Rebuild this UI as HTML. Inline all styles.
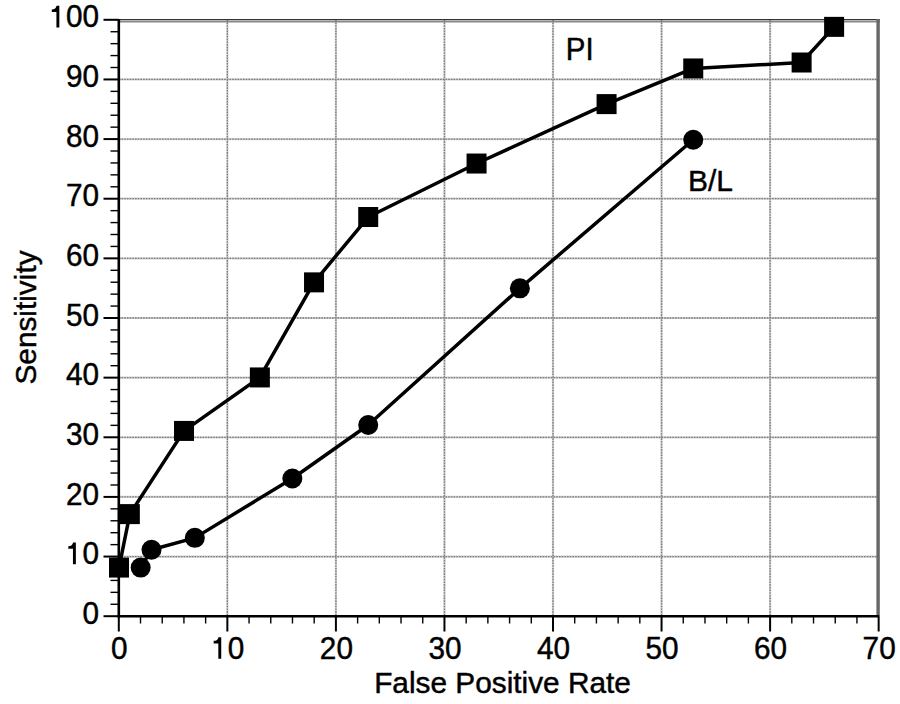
<!DOCTYPE html>
<html><head><meta charset="utf-8"><style>
html,body{margin:0;padding:0;background:#fff;}
body{width:900px;height:704px;overflow:hidden;}
svg{display:block;}
text{font-family:"Liberation Sans",sans-serif;fill:#000;stroke:#000;stroke-width:0.45px;}
.h{fill:none;stroke:none;}
path{fill:#000;}
</style></head><body>
<svg width="900" height="704" viewBox="0 0 900 704">
<rect width="900" height="704" fill="#fff"/>

<g stroke="#d2d2d2" stroke-width="2.2"><line x1="227.35" y1="19.80" x2="227.35" y2="616.20"/><line x1="335.90" y1="19.80" x2="335.90" y2="616.20"/><line x1="444.45" y1="19.80" x2="444.45" y2="616.20"/><line x1="553.00" y1="19.80" x2="553.00" y2="616.20"/><line x1="661.55" y1="19.80" x2="661.55" y2="616.20"/><line x1="770.10" y1="19.80" x2="770.10" y2="616.20"/><line x1="118.80" y1="556.56" x2="878.65" y2="556.56"/><line x1="118.80" y1="496.92" x2="878.65" y2="496.92"/><line x1="118.80" y1="437.28" x2="878.65" y2="437.28"/><line x1="118.80" y1="377.64" x2="878.65" y2="377.64"/><line x1="118.80" y1="318.00" x2="878.65" y2="318.00"/><line x1="118.80" y1="258.36" x2="878.65" y2="258.36"/><line x1="118.80" y1="198.72" x2="878.65" y2="198.72"/><line x1="118.80" y1="139.08" x2="878.65" y2="139.08"/><line x1="118.80" y1="79.44" x2="878.65" y2="79.44"/></g>
<g stroke="#7c7c7c" stroke-width="1.3" stroke-dasharray="1.6 1.1"><line x1="227.35" y1="19.80" x2="227.35" y2="616.20"/><line x1="335.90" y1="19.80" x2="335.90" y2="616.20"/><line x1="444.45" y1="19.80" x2="444.45" y2="616.20"/><line x1="553.00" y1="19.80" x2="553.00" y2="616.20"/><line x1="661.55" y1="19.80" x2="661.55" y2="616.20"/><line x1="770.10" y1="19.80" x2="770.10" y2="616.20"/><line x1="118.80" y1="556.56" x2="878.65" y2="556.56"/><line x1="118.80" y1="496.92" x2="878.65" y2="496.92"/><line x1="118.80" y1="437.28" x2="878.65" y2="437.28"/><line x1="118.80" y1="377.64" x2="878.65" y2="377.64"/><line x1="118.80" y1="318.00" x2="878.65" y2="318.00"/><line x1="118.80" y1="258.36" x2="878.65" y2="258.36"/><line x1="118.80" y1="198.72" x2="878.65" y2="198.72"/><line x1="118.80" y1="139.08" x2="878.65" y2="139.08"/><line x1="118.80" y1="79.44" x2="878.65" y2="79.44"/></g>
<line x1="118.80" y1="19.6" x2="879.9" y2="19.6" stroke="#333" stroke-width="1.3"/>
<line x1="118.80" y1="21.7" x2="879.9" y2="21.7" stroke="#888" stroke-width="1.8"/>
<line x1="878.1" y1="19" x2="878.1" y2="616.20" stroke="#666" stroke-width="3.4"/>
<g stroke="#000"><line x1="118.80" y1="19.30" x2="118.80" y2="617.40" stroke-width="2.6"/><line x1="117.60" y1="616.20" x2="879.15" y2="616.20" stroke-width="2.6"/><line x1="118.80" y1="616.20" x2="118.80" y2="631.5" stroke-width="2"/><line x1="140.51" y1="616.20" x2="140.51" y2="623.5" stroke-width="1.4"/><line x1="162.22" y1="616.20" x2="162.22" y2="623.5" stroke-width="1.4"/><line x1="183.93" y1="616.20" x2="183.93" y2="623.5" stroke-width="1.4"/><line x1="205.64" y1="616.20" x2="205.64" y2="623.5" stroke-width="1.4"/><line x1="227.35" y1="616.20" x2="227.35" y2="631.5" stroke-width="2"/><line x1="249.06" y1="616.20" x2="249.06" y2="623.5" stroke-width="1.4"/><line x1="270.77" y1="616.20" x2="270.77" y2="623.5" stroke-width="1.4"/><line x1="292.48" y1="616.20" x2="292.48" y2="623.5" stroke-width="1.4"/><line x1="314.19" y1="616.20" x2="314.19" y2="623.5" stroke-width="1.4"/><line x1="335.90" y1="616.20" x2="335.90" y2="631.5" stroke-width="2"/><line x1="357.61" y1="616.20" x2="357.61" y2="623.5" stroke-width="1.4"/><line x1="379.32" y1="616.20" x2="379.32" y2="623.5" stroke-width="1.4"/><line x1="401.03" y1="616.20" x2="401.03" y2="623.5" stroke-width="1.4"/><line x1="422.74" y1="616.20" x2="422.74" y2="623.5" stroke-width="1.4"/><line x1="444.45" y1="616.20" x2="444.45" y2="631.5" stroke-width="2"/><line x1="466.16" y1="616.20" x2="466.16" y2="623.5" stroke-width="1.4"/><line x1="487.87" y1="616.20" x2="487.87" y2="623.5" stroke-width="1.4"/><line x1="509.58" y1="616.20" x2="509.58" y2="623.5" stroke-width="1.4"/><line x1="531.29" y1="616.20" x2="531.29" y2="623.5" stroke-width="1.4"/><line x1="553.00" y1="616.20" x2="553.00" y2="631.5" stroke-width="2"/><line x1="574.71" y1="616.20" x2="574.71" y2="623.5" stroke-width="1.4"/><line x1="596.42" y1="616.20" x2="596.42" y2="623.5" stroke-width="1.4"/><line x1="618.13" y1="616.20" x2="618.13" y2="623.5" stroke-width="1.4"/><line x1="639.84" y1="616.20" x2="639.84" y2="623.5" stroke-width="1.4"/><line x1="661.55" y1="616.20" x2="661.55" y2="631.5" stroke-width="2"/><line x1="683.26" y1="616.20" x2="683.26" y2="623.5" stroke-width="1.4"/><line x1="704.97" y1="616.20" x2="704.97" y2="623.5" stroke-width="1.4"/><line x1="726.68" y1="616.20" x2="726.68" y2="623.5" stroke-width="1.4"/><line x1="748.39" y1="616.20" x2="748.39" y2="623.5" stroke-width="1.4"/><line x1="770.10" y1="616.20" x2="770.10" y2="631.5" stroke-width="2"/><line x1="791.81" y1="616.20" x2="791.81" y2="623.5" stroke-width="1.4"/><line x1="813.52" y1="616.20" x2="813.52" y2="623.5" stroke-width="1.4"/><line x1="835.23" y1="616.20" x2="835.23" y2="623.5" stroke-width="1.4"/><line x1="856.94" y1="616.20" x2="856.94" y2="623.5" stroke-width="1.4"/><line x1="878.65" y1="616.20" x2="878.65" y2="631.5" stroke-width="2"/><line x1="103.5" y1="616.20" x2="118.80" y2="616.20" stroke-width="2"/><line x1="110.5" y1="604.27" x2="118.80" y2="604.27" stroke-width="1.4"/><line x1="110.5" y1="592.34" x2="118.80" y2="592.34" stroke-width="1.4"/><line x1="110.5" y1="580.42" x2="118.80" y2="580.42" stroke-width="1.4"/><line x1="110.5" y1="568.49" x2="118.80" y2="568.49" stroke-width="1.4"/><line x1="103.5" y1="556.56" x2="118.80" y2="556.56" stroke-width="2"/><line x1="110.5" y1="544.63" x2="118.80" y2="544.63" stroke-width="1.4"/><line x1="110.5" y1="532.70" x2="118.80" y2="532.70" stroke-width="1.4"/><line x1="110.5" y1="520.78" x2="118.80" y2="520.78" stroke-width="1.4"/><line x1="110.5" y1="508.85" x2="118.80" y2="508.85" stroke-width="1.4"/><line x1="103.5" y1="496.92" x2="118.80" y2="496.92" stroke-width="2"/><line x1="110.5" y1="484.99" x2="118.80" y2="484.99" stroke-width="1.4"/><line x1="110.5" y1="473.06" x2="118.80" y2="473.06" stroke-width="1.4"/><line x1="110.5" y1="461.14" x2="118.80" y2="461.14" stroke-width="1.4"/><line x1="110.5" y1="449.21" x2="118.80" y2="449.21" stroke-width="1.4"/><line x1="103.5" y1="437.28" x2="118.80" y2="437.28" stroke-width="2"/><line x1="110.5" y1="425.35" x2="118.80" y2="425.35" stroke-width="1.4"/><line x1="110.5" y1="413.42" x2="118.80" y2="413.42" stroke-width="1.4"/><line x1="110.5" y1="401.50" x2="118.80" y2="401.50" stroke-width="1.4"/><line x1="110.5" y1="389.57" x2="118.80" y2="389.57" stroke-width="1.4"/><line x1="103.5" y1="377.64" x2="118.80" y2="377.64" stroke-width="2"/><line x1="110.5" y1="365.71" x2="118.80" y2="365.71" stroke-width="1.4"/><line x1="110.5" y1="353.78" x2="118.80" y2="353.78" stroke-width="1.4"/><line x1="110.5" y1="341.86" x2="118.80" y2="341.86" stroke-width="1.4"/><line x1="110.5" y1="329.93" x2="118.80" y2="329.93" stroke-width="1.4"/><line x1="103.5" y1="318.00" x2="118.80" y2="318.00" stroke-width="2"/><line x1="110.5" y1="306.07" x2="118.80" y2="306.07" stroke-width="1.4"/><line x1="110.5" y1="294.14" x2="118.80" y2="294.14" stroke-width="1.4"/><line x1="110.5" y1="282.22" x2="118.80" y2="282.22" stroke-width="1.4"/><line x1="110.5" y1="270.29" x2="118.80" y2="270.29" stroke-width="1.4"/><line x1="103.5" y1="258.36" x2="118.80" y2="258.36" stroke-width="2"/><line x1="110.5" y1="246.43" x2="118.80" y2="246.43" stroke-width="1.4"/><line x1="110.5" y1="234.50" x2="118.80" y2="234.50" stroke-width="1.4"/><line x1="110.5" y1="222.58" x2="118.80" y2="222.58" stroke-width="1.4"/><line x1="110.5" y1="210.65" x2="118.80" y2="210.65" stroke-width="1.4"/><line x1="103.5" y1="198.72" x2="118.80" y2="198.72" stroke-width="2"/><line x1="110.5" y1="186.79" x2="118.80" y2="186.79" stroke-width="1.4"/><line x1="110.5" y1="174.86" x2="118.80" y2="174.86" stroke-width="1.4"/><line x1="110.5" y1="162.94" x2="118.80" y2="162.94" stroke-width="1.4"/><line x1="110.5" y1="151.01" x2="118.80" y2="151.01" stroke-width="1.4"/><line x1="103.5" y1="139.08" x2="118.80" y2="139.08" stroke-width="2"/><line x1="110.5" y1="127.15" x2="118.80" y2="127.15" stroke-width="1.4"/><line x1="110.5" y1="115.22" x2="118.80" y2="115.22" stroke-width="1.4"/><line x1="110.5" y1="103.30" x2="118.80" y2="103.30" stroke-width="1.4"/><line x1="110.5" y1="91.37" x2="118.80" y2="91.37" stroke-width="1.4"/><line x1="103.5" y1="79.44" x2="118.80" y2="79.44" stroke-width="2"/><line x1="110.5" y1="67.51" x2="118.80" y2="67.51" stroke-width="1.4"/><line x1="110.5" y1="55.58" x2="118.80" y2="55.58" stroke-width="1.4"/><line x1="110.5" y1="43.66" x2="118.80" y2="43.66" stroke-width="1.4"/><line x1="110.5" y1="31.73" x2="118.80" y2="31.73" stroke-width="1.4"/><line x1="103.5" y1="19.80" x2="118.80" y2="19.80" stroke-width="2"/></g>
<g><g transform="translate(99.00,623.80) scale(0.965,1) translate(-99.00,-623.80)"><text x="99.00" y="623.80" text-anchor="end" font-size="30.8">0</text></g><g transform="translate(99.00,564.16) scale(0.965,1) translate(-99.00,-564.16)"><text x="99.00" y="564.16" text-anchor="end" font-size="30.8"><tspan class="h">1</tspan>0</text><path transform="translate(64.74,564.16) scale(0.0308,-0.0308)" d="M 334 0 L 236 0 L 236 500 L 80 500 L 80 583 C 180 588 225 625 240 703 L 334 703 Z"/></g><g transform="translate(99.00,504.52) scale(0.965,1) translate(-99.00,-504.52)"><text x="99.00" y="504.52" text-anchor="end" font-size="30.8">20</text></g><g transform="translate(99.00,444.88) scale(0.965,1) translate(-99.00,-444.88)"><text x="99.00" y="444.88" text-anchor="end" font-size="30.8">30</text></g><g transform="translate(99.00,385.24) scale(0.965,1) translate(-99.00,-385.24)"><text x="99.00" y="385.24" text-anchor="end" font-size="30.8">40</text></g><g transform="translate(99.00,325.60) scale(0.965,1) translate(-99.00,-325.60)"><text x="99.00" y="325.60" text-anchor="end" font-size="30.8">50</text></g><g transform="translate(99.00,265.96) scale(0.965,1) translate(-99.00,-265.96)"><text x="99.00" y="265.96" text-anchor="end" font-size="30.8">60</text></g><g transform="translate(99.00,206.32) scale(0.965,1) translate(-99.00,-206.32)"><text x="99.00" y="206.32" text-anchor="end" font-size="30.8">70</text></g><g transform="translate(99.00,146.68) scale(0.965,1) translate(-99.00,-146.68)"><text x="99.00" y="146.68" text-anchor="end" font-size="30.8">80</text></g><g transform="translate(99.00,87.04) scale(0.965,1) translate(-99.00,-87.04)"><text x="99.00" y="87.04" text-anchor="end" font-size="30.8">90</text></g><g transform="translate(99.00,27.40) scale(0.965,1) translate(-99.00,-27.40)"><text x="99.00" y="27.40" text-anchor="end" font-size="30.8"><tspan class="h">1</tspan>00</text><path transform="translate(47.61,27.40) scale(0.0308,-0.0308)" d="M 334 0 L 236 0 L 236 500 L 80 500 L 80 583 C 180 588 225 625 240 703 L 334 703 Z"/></g><g transform="translate(119.30,658.80) scale(0.965,1) translate(-119.30,-658.80)"><text x="119.30" y="658.80" text-anchor="middle" font-size="30.8">0</text></g><g transform="translate(227.85,658.80) scale(0.965,1) translate(-227.85,-658.80)"><text x="227.85" y="658.80" text-anchor="middle" font-size="30.8"><tspan class="h">1</tspan>0</text><path transform="translate(210.72,658.80) scale(0.0308,-0.0308)" d="M 334 0 L 236 0 L 236 500 L 80 500 L 80 583 C 180 588 225 625 240 703 L 334 703 Z"/></g><g transform="translate(336.40,658.80) scale(0.965,1) translate(-336.40,-658.80)"><text x="336.40" y="658.80" text-anchor="middle" font-size="30.8">20</text></g><g transform="translate(444.95,658.80) scale(0.965,1) translate(-444.95,-658.80)"><text x="444.95" y="658.80" text-anchor="middle" font-size="30.8">30</text></g><g transform="translate(553.50,658.80) scale(0.965,1) translate(-553.50,-658.80)"><text x="553.50" y="658.80" text-anchor="middle" font-size="30.8">40</text></g><g transform="translate(662.05,658.80) scale(0.965,1) translate(-662.05,-658.80)"><text x="662.05" y="658.80" text-anchor="middle" font-size="30.8">50</text></g><g transform="translate(770.60,658.80) scale(0.965,1) translate(-770.60,-658.80)"><text x="770.60" y="658.80" text-anchor="middle" font-size="30.8">60</text></g><g transform="translate(879.15,658.80) scale(0.965,1) translate(-879.15,-658.80)"><text x="879.15" y="658.80" text-anchor="middle" font-size="30.8">70</text></g></g>
<text x="502.5" y="693" text-anchor="middle" font-size="29.8">False Positive Rate</text>
<text transform="translate(36,317.5) rotate(-90)" text-anchor="middle" font-size="29.8">Sensitivity</text>
<text transform="translate(567.5,59.9) scale(0.95,1)" x="-1.8" y="0" font-size="31">PI</text>
<text x="688" y="191.3" font-size="30">B/L</text>
<polyline points="119.00,567.58 129.84,514.11 184.01,430.92 259.86,377.44 314.03,282.37 368.21,217.01 476.56,163.53 606.58,104.11 693.25,68.46 801.61,62.51 834.11,26.86" fill="none" stroke="#000" stroke-width="3.5" stroke-linejoin="round"/>
<polyline points="140.67,567.58 151.50,549.76 194.84,537.87 292.36,478.45 368.21,424.98 519.89,288.31 693.25,139.76" fill="none" stroke="#000" stroke-width="3.5" stroke-linejoin="round"/>
<rect x="109.00" y="557.58" width="20" height="20" fill="#000"/>
<rect x="119.84" y="504.11" width="20" height="20" fill="#000"/>
<rect x="174.01" y="420.92" width="20" height="20" fill="#000"/>
<rect x="249.86" y="367.44" width="20" height="20" fill="#000"/>
<rect x="304.03" y="272.37" width="20" height="20" fill="#000"/>
<rect x="358.21" y="207.01" width="20" height="20" fill="#000"/>
<rect x="466.56" y="153.53" width="20" height="20" fill="#000"/>
<rect x="596.58" y="94.11" width="20" height="20" fill="#000"/>
<rect x="683.25" y="58.46" width="20" height="20" fill="#000"/>
<rect x="791.61" y="52.51" width="20" height="20" fill="#000"/>
<rect x="824.11" y="16.86" width="20" height="20" fill="#000"/>
<circle cx="140.67" cy="567.58" r="10" fill="#000"/>
<circle cx="151.50" cy="549.76" r="10" fill="#000"/>
<circle cx="194.84" cy="537.87" r="10" fill="#000"/>
<circle cx="292.36" cy="478.45" r="10" fill="#000"/>
<circle cx="368.21" cy="424.98" r="10" fill="#000"/>
<circle cx="519.89" cy="288.31" r="10" fill="#000"/>
<circle cx="693.25" cy="139.76" r="10" fill="#000"/>
</svg></body></html>
